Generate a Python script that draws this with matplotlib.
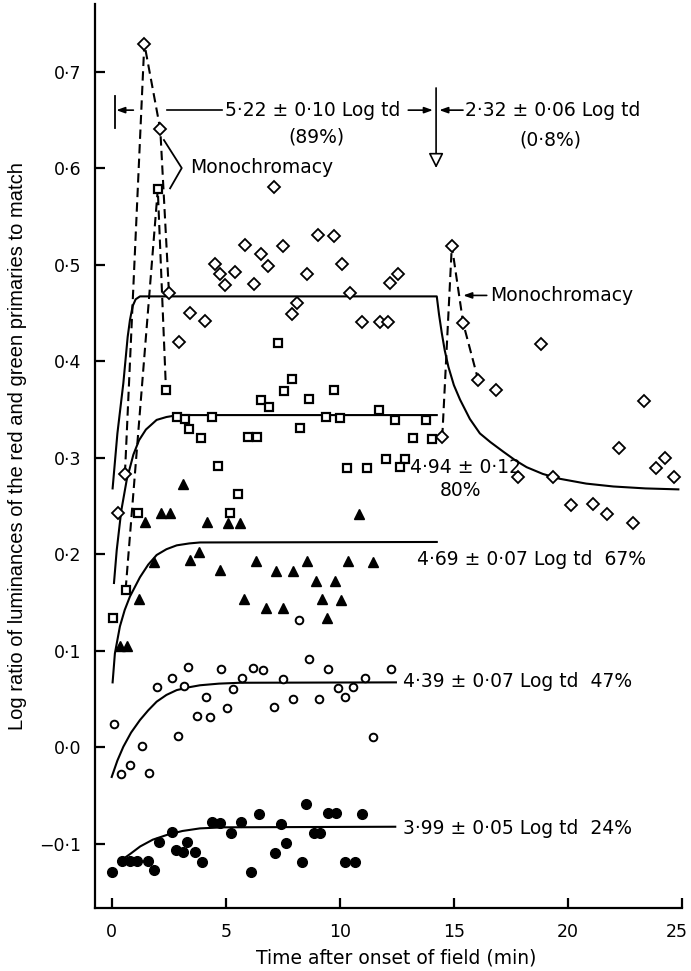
"""
Red/green luminance ratio needed for a match against time after onset of
the adapting field, for five field intensities.
"""
import matplotlib
matplotlib.use('Agg')
from matplotlib import pyplot as plt
from matplotlib.transforms import ScaledTranslation

plt.rcParams['font.family'] = ['DejaVu Sans']

# --- data ---------------------------------------------------------------
# 5.22 log td (diamonds)
diamond_x = [1.43, 2.13, 7.10, 5.86, 6.56, 7.52, 9.06, 9.73, 4.53, 4.75,
             4.98, 5.42, 6.23, 6.84, 8.55, 10.08, 12.22, 12.54, 10.46, 2.51,
             8.14, 7.90, 3.43, 4.09, 2.96, 10.96, 11.76, 12.13, 0.58, 0.29,
             14.91, 15.41, 18.82, 16.07, 16.85, 23.34, 22.23, 24.26, 23.86,
             24.66, 14.49, 17.83, 19.36, 20.12, 21.11, 21.70, 22.87]
diamond_y = [0.729, 0.640, 0.580, 0.520, 0.511, 0.519, 0.531, 0.530, 0.501,
             0.490, 0.479, 0.492, 0.480, 0.499, 0.490, 0.501, 0.481, 0.490,
             0.471, 0.471, 0.460, 0.449, 0.450, 0.441, 0.420, 0.440, 0.440,
             0.440, 0.283, 0.243, 0.5195, 0.439, 0.418, 0.380, 0.370, 0.359,
             0.3095, 0.300, 0.289, 0.280, 0.321, 0.2795, 0.280, 0.251, 0.252,
             0.242, 0.232]

# 4.94 log td (open squares)
square_x = [2.02, 2.38, 7.30, 7.89, 7.57, 9.76, 6.56, 6.90, 8.66, 2.85,
            3.21, 3.40, 3.92, 4.38, 5.96, 6.36, 8.26, 9.39, 10.01, 11.73,
            12.42, 13.78, 13.22, 14.03, 4.67, 5.55, 5.19, 10.30, 11.18,
            12.03, 12.86, 12.64, 1.17, 0.61, 0.04]
square_y = [0.578, 0.370, 0.419, 0.381, 0.369, 0.370, 0.360, 0.352, 0.361,
            0.342, 0.340, 0.330, 0.3205, 0.342, 0.3215, 0.3215, 0.331, 0.342,
            0.3405, 0.349, 0.339, 0.339, 0.320, 0.319, 0.291, 0.262, 0.243,
            0.289, 0.289, 0.299, 0.299, 0.290, 0.243, 0.163, 0.134]

# 4.69 log td (filled triangles)
triangle_x = [3.11, 2.15, 2.56, 1.46, 4.19, 5.11, 5.62, 10.85, 1.85, 3.43,
              3.84, 4.75, 6.33, 7.20, 7.96, 8.55, 10.37, 11.47, 8.96, 9.79,
              5.81, 6.75, 7.52, 9.23, 10.04, 9.43, 1.20, 0.36, 0.68]
triangle_y = [0.273, 0.243, 0.243, 0.233, 0.2335, 0.232, 0.2325, 0.242,
              0.192, 0.194, 0.2025, 0.183, 0.193, 0.182, 0.182, 0.193, 0.193,
              0.192, 0.172, 0.172, 0.153, 0.144, 0.144, 0.153, 0.152, 0.134,
              0.153, 0.105, 0.105]

# 4.39 log td (open circles)
open_x = [8.22, 8.65, 3.33, 4.78, 6.18, 6.62, 9.47, 12.24, 2.63, 5.70, 7.52,
          11.10, 1.97, 3.17, 5.30, 9.93, 10.59, 10.23, 4.12, 7.94, 9.10,
          5.04, 7.12, 3.75, 4.31, 0.10, 2.92, 11.47, 1.32, 0.82, 0.41, 1.65]
open_y = [0.132, 0.091, 0.0826, 0.081, 0.082, 0.080, 0.081, 0.081, 0.072,
          0.072, 0.0705, 0.072, 0.062, 0.063, 0.060, 0.061, 0.062, 0.0515,
          0.052, 0.050, 0.050, 0.040, 0.041, 0.032, 0.031, 0.0235, 0.0114,
          0.0107, 0.001, -0.0187, -0.0283, -0.027]

# 3.99 log td (filled circles)
filled_x = [8.51, 6.47, 9.50, 9.83, 10.99, 4.38, 4.75, 5.66, 7.41, 5.23,
            8.88, 9.13, 2.66, 2.09, 3.31, 7.64, 0.0, 0.45, 0.79, 1.13, 1.59,
            1.86, 2.81, 3.11, 3.65, 3.96, 6.12, 7.14, 8.33, 10.22, 10.66]
filled_y = [-0.0594, -0.0694, -0.0687, -0.0687, -0.0694, -0.078, -0.079,
            -0.078, -0.080, -0.089, -0.0888, -0.0894, -0.088, -0.098, -0.098,
            -0.0999, -0.129, -0.118, -0.118, -0.118, -0.118, -0.1275, -0.107,
            -0.1085, -0.1085, -0.1195, -0.129, -0.1095, -0.1195, -0.1195,
            -0.1195]

# hand-drawn fitted curves
fit_diamond_x = [0.04, 0.25, 0.51, 0.70, 0.80, 0.92, 1.05, 1.24, 14.25,
                 14.35, 14.47, 14.60, 14.76, 15.00, 15.27, 15.70, 16.14,
                 16.60, 17.17, 17.70, 18.19, 18.90, 19.64, 20.80, 21.99,
                 23.40, 24.84]
fit_diamond_y = [0.268, 0.325, 0.377, 0.425, 0.4425, 0.457, 0.464, 0.467,
                 0.467, 0.448, 0.429, 0.411, 0.394, 0.375, 0.360, 0.340,
                 0.325, 0.316, 0.306, 0.297, 0.290, 0.283, 0.278, 0.273,
                 0.270, 0.268, 0.267]
fit_square_x = [0.10, 0.22, 0.42, 0.66, 0.95, 1.20, 1.50, 1.97, 2.40, 2.90,
                14.25]
fit_square_y = [0.170, 0.204, 0.245, 0.277, 0.303, 0.318, 0.329, 0.339,
                0.342, 0.344, 0.344]
fit_triangle_x = [0.04, 0.14, 0.36, 0.57, 0.80, 1.24, 1.60, 1.97, 2.40,
                  2.85, 3.40, 3.87, 14.25]
fit_triangle_y = [0.067, 0.097, 0.125, 0.142, 0.156, 0.176, 0.189, 0.199,
                  0.205, 0.209, 0.211, 0.212, 0.2125]
fit_open_x = [0.0, 0.25, 0.51, 0.85, 1.24, 1.60, 1.97, 2.40, 2.85, 3.40,
              3.87, 4.70, 5.62, 12.46]
fit_open_y = [-0.031, -0.014, 0.0003, 0.015, 0.028, 0.038, 0.047, 0.054,
              0.059, 0.062, 0.064, 0.0657, 0.0666, 0.067]
fit_filled_x = [0.32, 0.80, 1.25, 1.80, 2.43, 3.10, 3.87, 4.89, 12.43]
fit_filled_y = [-0.119, -0.111, -0.103, -0.096, -0.091, -0.087, -0.0843,
                -0.0832, -0.0826]

# dashed "monochromacy" excursions
mono_diamond_x = [0.58, 1.43, 2.13, 2.51]
mono_diamond_y = [0.283, 0.729, 0.640, 0.471]
mono_square_x = [0.61, 2.02, 2.38]
mono_square_y = [0.163, 0.578, 0.370]
mono_late_x = [14.49, 14.91, 15.41, 16.07]
mono_late_y = [0.321, 0.5195, 0.439, 0.380]

x_ticks = [0, 5, 10, 15, 20, 25]
y_ticks = [-0.1, 0.0, 0.1, 0.2, 0.3, 0.4, 0.5, 0.6, 0.7]


def dot_label(v):
    """Format a value with the British raised decimal point."""
    s = f'{abs(v):.1f}'.replace('.', '\u00b7')
    return ('\u2212' if v < 0 else '') + s


fig = plt.figure(figsize=(6.91, 9.71), dpi=100)
ax = fig.add_axes([95 / 691, 1 - 907.7 / 971, 587 / 691, 903.7 / 971])

FS = 13.5
LW = 1.5
dash = (0, (4.5, 2.5))

# fitted curves
for fx, fy in [(fit_diamond_x, fit_diamond_y), (fit_square_x, fit_square_y),
               (fit_triangle_x, fit_triangle_y), (fit_open_x, fit_open_y),
               (fit_filled_x, fit_filled_y)]:
    ax.plot(fx, fy, color='black', lw=LW, zorder=2, solid_joinstyle='round')

for mx, my in [(mono_diamond_x, mono_diamond_y),
               (mono_square_x, mono_square_y),
               (mono_late_x, mono_late_y)]:
    ax.plot(mx, my, color='black', lw=LW, linestyle=dash, zorder=2)

# data points
ax.plot(diamond_x, diamond_y, 'D', ms=6, mfc='white', mec='black', mew=1.3,
        zorder=3)
ax.plot(square_x, square_y, 's', ms=5.5, mfc='white', mec='black', mew=1.6,
        zorder=3)
ax.plot(triangle_x, triangle_y, '^', ms=7, color='black', zorder=3)
ax.plot(open_x, open_y, 'o', ms=5.5, mfc='white', mec='black', mew=1.4,
        zorder=3)
ax.plot(filled_x, filled_y, 'o', ms=7, color='black', zorder=3)

# intensity labels
ax.text(13.08, 0.290, '4\u00b794 \u00b1 0\u00b712', fontsize=FS, va='center')
ax.text(14.39, 0.266, '80%', fontsize=FS, va='center')
ax.text(13.37, 0.1945, '4\u00b769 \u00b1 0\u00b707 Log td  67%', fontsize=FS,
        va='center')
ax.text(12.78, 0.0677, '4\u00b739 \u00b1 0\u00b707 Log td  47%', fontsize=FS,
        va='center')
ax.text(12.78, -0.0843, '3\u00b799 \u00b1 0\u00b705 Log td  24%', fontsize=FS,
        va='center')

# top bracket: 5.22 log td and 2.32 log td periods
small_arrow = dict(arrowstyle='-|>,head_length=0.5,head_width=0.18',
                   color='black', lw=1.2, shrinkA=0, shrinkB=0)
ax.plot([0.14, 0.14], [0.642, 0.675], color='black', lw=1.3)
ax.annotate('', xy=(0.20, 0.660), xytext=(0.95, 0.660),
            arrowprops=small_arrow)
ax.plot([2.41, 4.84], [0.660, 0.660], color='black', lw=1.2)
ax.text(4.97, 0.660, '5\u00b722 \u00b1 0\u00b710 Log td', fontsize=FS,
        va='center')
ax.text(8.99, 0.632, '(89%)', fontsize=FS, va='center', ha='center')
ax.annotate('', xy=(14.08, 0.660), xytext=(13.0, 0.660),
            arrowprops=small_arrow)
ax.annotate('', xy=(14.22, 0.600), xytext=(14.22, 0.683),
            arrowprops=dict(arrowstyle='-|>,head_length=0.6,head_width=0.3',
                            mutation_scale=15, fc='white', ec='black',
                            lw=1.2, shrinkA=0, shrinkB=0))
ax.annotate('', xy=(14.36, 0.660), xytext=(15.40, 0.660),
            arrowprops=small_arrow)
ax.text(15.49, 0.660, '2\u00b732 \u00b1 0\u00b706 Log td', fontsize=FS,
        va='center')
ax.text(19.22, 0.629, '(0\u00b78%)', fontsize=FS, va='center', ha='center')

# monochromacy labels
ax.plot([2.29, 3.07, 2.56], [0.629, 0.600, 0.579], color='black', lw=1.3)
ax.text(3.43, 0.601, 'Monochromacy', fontsize=FS, va='center')
ax.annotate('', xy=(15.41, 0.468), xytext=(16.44, 0.468),
            arrowprops=small_arrow)
ax.text(16.58, 0.468, 'Monochromacy', fontsize=FS, va='center')

# axes styling
ax.set_xlim(-0.732, 25.0)
ax.set_ylim(-0.1665, 0.770)
for side in ['top', 'right']:
    ax.spines[side].set_visible(False)
for side in ['left', 'bottom']:
    ax.spines[side].set_linewidth(1.6)
ax.set_xticks(x_ticks)
ax.set_xticklabels([str(t) for t in x_ticks])
ax.set_yticks(y_ticks)
ax.set_yticklabels([dot_label(t) for t in y_ticks])
ax.tick_params(axis='both', direction='in', length=7.5, width=1.6,
               labelsize=12.5)
ax.tick_params(axis='y', pad=10)
ax.tick_params(axis='x', pad=11)

# the "25" sits right at the image edge: nudge it inside
last = ax.get_xticklabels()[-1]
last.set_transform(last.get_transform()
                   + ScaledTranslation(-4 / 72, 0, fig.dpi_scale_trans))

fig.text(396 / 691, 1 - 958 / 971, 'Time after onset of field (min)',
         fontsize=13.5, ha='center', va='center')
fig.text(18 / 691, 1 - 446 / 971,
         'Log ratio of luminances of the red and green primaries to match',
         fontsize=14.5, ha='center', va='center', rotation=90,
         family=['Liberation Sans', 'DejaVu Sans'])

fig.savefig('out.png', dpi=100)
